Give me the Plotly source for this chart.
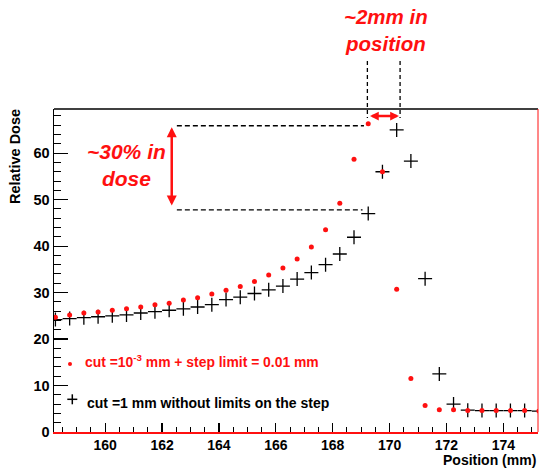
import plotly.graph_objects as go

# Data
position = [158.25 + 0.5 * i for i in range(35)]
dose_fine = [24.7, 25.2, 25.6, 25.8, 26.2, 26.5, 26.9, 27.4, 27.7, 28.4,
             28.9, 29.7, 30.5, 31.3, 32.4, 33.8, 35.3, 37.2, 39.8, 43.5,
             49.2, 58.7, 66.3, 56.0, 30.7, 11.5, 5.7, 4.8, 4.8, 4.6,
             4.6, 4.6, 4.6, 4.6, 4.5]
dose_coarse = [24.2, 24.4, 24.6, 24.8, 25.0, 25.2, 25.6, 25.9, 26.2, 26.5,
               26.9, 27.4, 28.5, 29.0, 29.8, 30.6, 31.4, 32.9, 34.3, 36.0,
               38.3, 41.9, 47.0, 56.0, 65.0, 58.3, 33.0, 12.5, 6.0, 4.7,
               4.6, 4.6, 4.6, 4.6, 4.5]
x_ticks = [160, 162, 164, 166, 168, 170, 172, 174]
y_ticks = [0, 10, 20, 30, 40, 50, 60]

FONT = "Liberation Sans"
RED = "#ff1010"

W, H = 539, 468
L, R, T, B = 54, 1, 109, 36
pw, ph = W - L - R, H - T - B


def px(xp):
    return (xp - L) / pw


def py(yp):
    return (H - B - yp) / ph


fig = go.Figure()
fig.add_trace(go.Scatter(
    x=position, y=dose_coarse, mode="markers",
    marker=dict(symbol="cross-thin", size=10, color="black",
                line=dict(color="black", width=1.3)),
    showlegend=False, cliponaxis=True))
fig.add_trace(go.Scatter(
    x=position, y=dose_fine, mode="markers",
    marker=dict(symbol="circle", size=5, color=RED, line=dict(width=0)),
    showlegend=False, cliponaxis=True))

tickfont = dict(family=FONT, size=14, color="black", weight="bold")
fig.update_xaxes(range=[158.2, 175.22], tickvals=x_ticks, ticks="inside",
                 ticklen=9, tickwidth=1.2, tickcolor="black",
                 minor=dict(dtick=0.5, ticks="inside", ticklen=5,
                            tickcolor="black", tickwidth=1),
                 showline=True, linecolor=RED, linewidth=1.5,
                 showgrid=False, zeroline=False, tickfont=tickfont)
fig.update_yaxes(range=[0, 69.5], tickvals=y_ticks, ticks="inside",
                 ticklen=14, tickwidth=1.2, tickcolor="black",
                 minor=dict(dtick=2, ticks="inside", ticklen=7,
                            tickcolor="black", tickwidth=1),
                 showline=True, linecolor="black", linewidth=1.5,
                 showgrid=False, zeroline=False,
                 tickfont=dict(family=FONT, size=14.5, color="black", weight="bold"))

shapes = [
    # frame top and right
    dict(type="line", xref="paper", yref="paper", x0=0, x1=1, y0=1, y1=1,
         line=dict(color="black", width=1.3)),
    dict(type="line", xref="paper", yref="paper", x0=1, x1=1, y0=0, y1=1,
         line=dict(color=RED, width=1)),
    # horizontal dashed guides
    dict(type="line", xref="x", yref="y", x0=162.52, x1=169.1, y0=65.9, y1=65.9,
         line=dict(color="black", width=1.3, dash="5px,3px")),
    dict(type="line", xref="x", yref="y", x0=162.52, x1=169.05, y0=47.8, y1=47.8,
         line=dict(color="black", width=1.3, dash="5px,3px")),
    # vertical dashed guides (above the plot)
    dict(type="line", xref="x", yref="paper", x0=169.22, x1=169.22,
         y0=py(61), y1=py(118), line=dict(color="black", width=1.3, dash="4px,3px")),
    dict(type="line", xref="x", yref="paper", x0=170.37, x1=170.37,
         y0=py(61), y1=py(118), line=dict(color="black", width=1.3, dash="4px,3px")),
    # legend symbols
    dict(type="circle", xref="paper", yref="paper", x0=px(68), x1=px(72),
         y0=py(366), y1=py(362), fillcolor=RED, line=dict(width=0)),
    dict(type="line", xref="paper", yref="paper", x0=px(67.3), x1=px(77.3),
         y0=py(399.3), y1=py(399.3), line=dict(color="black", width=1.5)),
    dict(type="line", xref="paper", yref="paper", x0=px(72.3), x1=px(72.3),
         y0=py(394.3), y1=py(404.3), line=dict(color="black", width=1.5)),
]

annotations = [
    # double arrows
    dict(x=162.34, y=65.6, ax=162.34, ay=48.4, axref="x", ayref="y",
         xref="x", yref="y", text="", showarrow=True, arrowhead=2,
         arrowside="end+start", arrowwidth=2.5, arrowsize=0.8,
         arrowcolor=RED, standoff=0, startstandoff=0),
    dict(x=170.33, y=py(116), ax=169.26, ay=0, axref="x", ayref="pixel",
         xref="x", yref="paper", text="", showarrow=True, arrowhead=2,
         arrowside="end+start", arrowwidth=2.5, arrowsize=0.7,
         arrowcolor=RED, standoff=0, startstandoff=0),
    # callout texts
    dict(x=160.74, y=57.4, xref="x", yref="y", showarrow=False,
         text="<b><i>~30% in</i></b><br><b><i>dose</i></b>",
         font=dict(family=FONT, size=21, color=RED), align="center",
         xanchor="center", yanchor="middle"),
    dict(x=169.86, y=py(30), xref="x", yref="paper", showarrow=False,
         text="<b><i>~2mm in</i></b><br><b><i>position</i></b>",
         font=dict(family=FONT, size=20.5, color=RED), align="center",
         xanchor="center", yanchor="middle"),
    # legend texts
    dict(x=px(82.5), y=py(361), xref="paper", yref="paper", showarrow=False,
         text="<b>cut =10<sup>-3</sup> mm + step limit = 0.01 mm</b>",
         font=dict(family=FONT, size=13.9, color=RED),
         xanchor="left", yanchor="middle"),
    dict(x=px(85), y=py(403.3), xref="paper", yref="paper", showarrow=False,
         text="<b>cut =1 mm without limits on the step</b>",
         font=dict(family=FONT, size=14, color="black"),
         xanchor="left", yanchor="middle"),
    # axis titles
    dict(x=px(15), y=py(157), xref="paper", yref="paper", showarrow=False,
         text="<b>Relative Dose</b>", textangle=-90,
         font=dict(family=FONT, size=14.5, color="black"),
         xanchor="center", yanchor="middle"),
    dict(x=1.0, y=py(460), xref="paper", yref="paper", showarrow=False,
         text="<b>Position (mm)</b>",
         font=dict(family=FONT, size=14, color="black"),
         xanchor="right", yanchor="middle"),
]

fig.update_layout(width=W, height=H, margin=dict(l=L, r=R, t=T, b=B),
                  paper_bgcolor="white", plot_bgcolor="white",
                  shapes=shapes, annotations=annotations, showlegend=False)

fig.write_html("out.html",
               config={"displayModeBar": False, "staticPlot": True},
               post_script="document.body.style.margin='0';"
                           "document.body.style.overflow='hidden';")
